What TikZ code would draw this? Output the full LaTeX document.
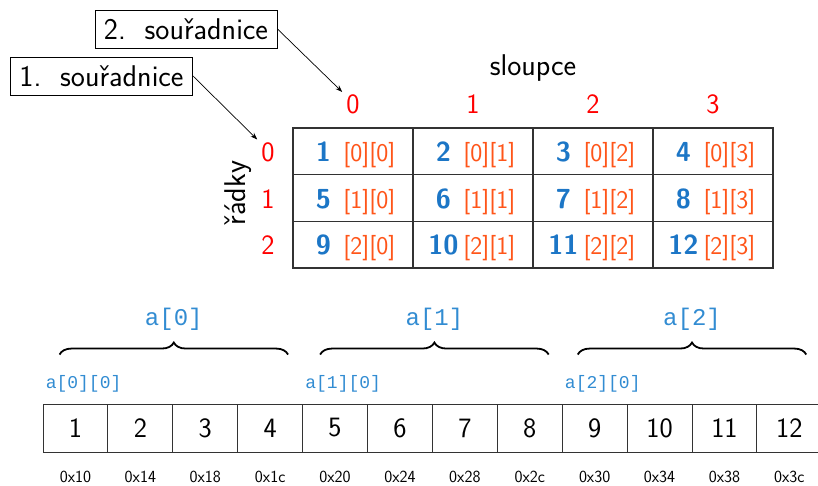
\documentclass[tikz,border=0pt]{standalone}
\usepackage{fontspec}
\newfontfamily\monof{Liberation Mono}
\usetikzlibrary{decorations.pathreplacing,arrows.meta,calc}
\definecolor{cblue}{RGB}{28,118,198}
\definecolor{mblue}{RGB}{50,140,210}
\definecolor{corange}{RGB}{255,85,25}
\definecolor{cred}{RGB}{255,0,0}
\definecolor{grid}{RGB}{50,50,50}
\tikzset{
  big/.style={font=\sffamily\fontsize{30}{34}\selectfont},
  callout/.style={draw, line width=0.9pt, big, inner xsep=9pt, inner ysep=0pt, minimum height=38pt},
  idx/.style={font=\sffamily\fontsize{28}{32}\selectfont, text=cred, inner sep=1pt, anchor=base},
  cellbox/.style={draw=grid, line width=1.2pt, minimum width=120pt, minimum height=46.67pt, inner sep=0pt},
  numtxt/.style={font=\sffamily\bfseries\fontsize{27.5}{32}\selectfont, text=cblue, inner sep=0pt, anchor=base},
  subtxt/.style={font=\sffamily\fontsize{25.5}{30}\selectfont, text=corange, inner sep=0pt, anchor=base},
  memcell/.style={draw=black!80, line width=0.9pt, minimum width=64.9pt, minimum height=48pt, inner sep=0pt, font=\sffamily\fontsize{28}{32}\selectfont},
  addr/.style={font=\sffamily\fontsize{17}{20}\selectfont, anchor=base, inner sep=0pt},
  monolab/.style={font=\monof\fontsize{24}{28}\selectfont, text=mblue, inner sep=0pt},
  monosmall/.style={font=\monof\fontsize{18}{22}\selectfont, text=mblue, inner sep=0pt, anchor=base west},
  bracestyle/.style={decorate, decoration={brace, amplitude=12pt}, line width=1.8pt},
  pointer/.style={-{Stealth[length=7pt,width=5pt]}, line width=0.7pt}
}
\begin{document}
\begin{tikzpicture}[x=1pt,y=-1pt]
\useasboundingbox (0,0) rectangle (818,486);
% callouts
\node[callout] (k2) at (186,29) {2.\ \ souřadnice};
\node[callout] (k1) at (101.5,76) {1.\ \ souřadnice};
% axis titles
\node[big, anchor=base, inner sep=0pt] (sl) at (533,75.5) {sloupce};
\node[big, anchor=base, rotate=90, inner sep=0pt] (rd) at (245.5,193) {řádky};
% column labels
\foreach \j in {0,...,3}{
  \node[idx] (c\j) at (353+120*\j,114) {\j};
}
% row labels
\foreach \i in {0,1,2}{
  \node[idx] (r\i) at (268,161.5+46.67*\i) {\i};
}
% grid
\foreach \i in {0,1,2}{
  \foreach \j in {0,...,3}{
    \pgfmathtruncatemacro\n{4*\i+\j+1}
    \node[cellbox] (g\i\j) at (353+120*\j,151.33+46.67*\i) {};
    \node[numtxt] (n\i\j) at ($(g\i\j.west)+(31,10.3)$) {\n};
    \node[subtxt] (s\i\j) at ($(g\i\j.west)+(77,10.3)$) {[\i][\j]};
  }
}
% arrows
\coordinate (e2) at ($(c0.north west)+(-3,-2)$);
\coordinate (e1) at ($(r0.north west)+(-3,-2)$);
\draw[pointer] (k2.east) -- (e2);
\draw[pointer] (k1.east) -- (e1);
% memory cells
\foreach \k in {1,...,12}{
  \node[memcell] (m\k) at (43+32.45+64.9*\k-64.9,428) {\k};
}
% addresses
\foreach \k/\a in {1/10,2/14,3/18,4/1c,5/20,6/24,7/28,8/2c,9/30,10/34,11/38,12/3c}{
  \node[addr] (ad\k) at ($(m\k.center)+(0,54.5)$) {0x\a};
}
% sub-labels
\node[monosmall] (l0) at ($(m1.north west)+(3,-15.5)$) {a[0][0]};
\node[monosmall] (l1) at ($(m5.north west)+(3,-15.5)$) {a[1][0]};
\node[monosmall] (l2) at ($(m9.north west)+(3,-15.5)$) {a[2][0]};
% braces
\coordinate (b0s) at ($(m1.north west)+(17,-49)$);
\coordinate (b0e) at ($(m4.north east)+(-15,-49)$);
\coordinate (b1s) at ($(m5.north west)+(18,-49)$);
\coordinate (b1e) at ($(m8.north east)+(-14,-49)$);
\coordinate (b2s) at ($(m9.north west)+(16,-49)$);
\coordinate (b2e) at ($(m12.north east)+(-16,-49)$);
\draw[bracestyle] (b0s) -- (b0e);
\draw[bracestyle] (b1s) -- (b1e);
\draw[bracestyle] (b2s) -- (b2e);
\node[monolab] (a0) at ($(b0s)!0.5!(b0e)+(0,-35)$) {a[0]};
\node[monolab] (a1) at ($(b1s)!0.5!(b1e)+(0,-35)$) {a[1]};
\node[monolab] (a2) at ($(b2s)!0.5!(b2e)+(0,-35)$) {a[2]};
\end{tikzpicture}
\end{document}
